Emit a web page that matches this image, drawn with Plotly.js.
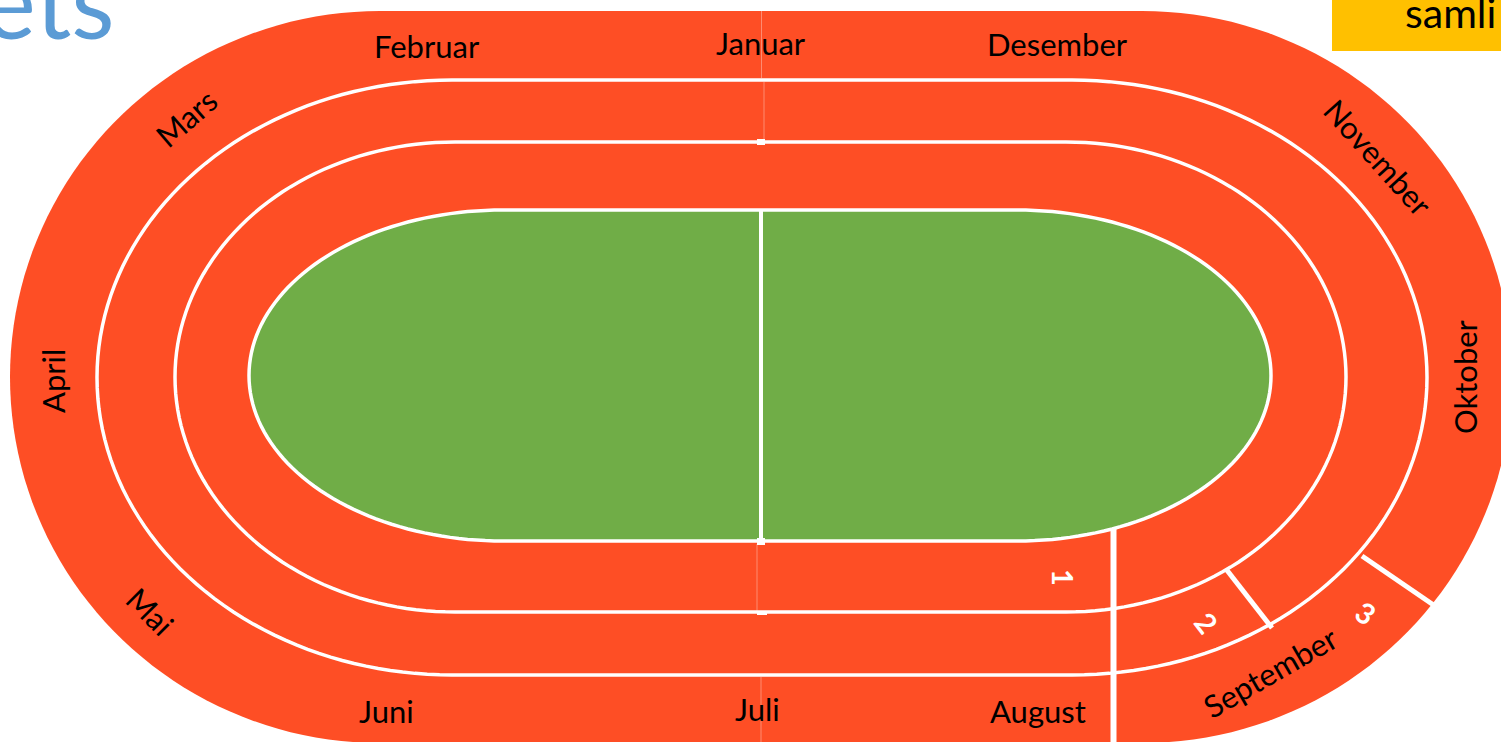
<!DOCTYPE html>
<html>
<head>
<meta charset="utf-8">
<script src="https://cdn.plot.ly/plotly-3.0.1.min.js"></script>
<style>html,body{margin:0;padding:0;background:#fff;overflow:hidden}#chart{width:1501px;height:742px}</style>
</head>
<body>
<div id="chart"></div>
<script>
// ---- content ----
const months = ["Januar","Februar","Mars","April","Mai","Juni","Juli","August","September","Oktober","November","Desember"];
const laneNumbers = ["1","2","3"];
const titleFragment = "ets";
const boxFragment = "samli";

// ---- geometry (pixel space of the slide) ----
const W = 1501, H = 742;
const RED = "#FE4E25", GREEN = "#70AD47", WHITE = "#FFFFFF";
// stadium boundaries: [cx, cy, halfWidth, halfHeight, endRadiusX]
const outerRing = [761, 377, 751, 366, 370];
const laneLine1 = [762, 377.5, 665, 297.5, 355];
const laneLine2 = [760.5, 377, 585.5, 235, 280];
const field     = [760, 375.5, 511, 165.5, 254];

function stadium(g, n) {
  n = n || 90;
  const [cx, cy, hw, hh, rx] = g;
  const xr = cx + hw - rx, xl = cx - hw + rx;
  const pts = [];
  for (let i = 0; i <= n; i++) { const t = -Math.PI/2 + Math.PI*i/n; pts.push([xr + rx*Math.cos(t), cy + hh*Math.sin(t)]); }
  for (let i = 0; i <= n; i++) { const t = Math.PI/2 + Math.PI*i/n; pts.push([xl + rx*Math.cos(t), cy + hh*Math.sin(t)]); }
  return "M" + pts.map(p => p[0].toFixed(2) + "," + p[1].toFixed(2)).join("L") + "Z";
}

// label placement: [x, y, angle]
const monthPlace = {
  "Januar":[761,43,0], "Februar":[427,46,0], "Mars":[186,118,-41], "April":[53,381,-90],
  "Mai":[150,611,45], "Juni":[386,711,0], "Juli":[757,709,0], "August":[1038,711,0],
  "September":[1270,672,-30], "Oktober":[1465,377,-90], "November":[1378,157,48], "Desember":[1057,44,0]
};
const lanePlace = [[1064,577,90],[1207,622,52],[1366,612,35]];

const shapes = [];
shapes.push({type:"path", path:stadium(outerRing), fillcolor:RED, line:{width:0}, layer:"below"});
shapes.push({type:"path", path:stadium(laneLine1), fillcolor:"rgba(0,0,0,0)", line:{color:WHITE, width:3.5}, layer:"below"});
shapes.push({type:"path", path:stadium(laneLine2), fillcolor:"rgba(0,0,0,0)", line:{color:WHITE, width:3.5}, layer:"below"});
shapes.push({type:"path", path:stadium(field), fillcolor:GREEN, line:{color:WHITE, width:3.5}, layer:"below"});
// faint seams at the centre line
const seam = {color:"rgba(255,255,255,0.35)", width:1};
shapes.push({type:"line", x0:761.5, x1:761.5, y0:11, y1:78, line:seam, layer:"below"});
shapes.push({type:"line", x0:764, x1:764, y0:82, y1:140, line:seam, layer:"below"});
shapes.push({type:"line", x0:757, x1:757, y0:544, y1:611, line:seam, layer:"below"});
shapes.push({type:"line", x0:761, x1:761, y0:677, y1:742, line:seam, layer:"below"});
shapes.push({type:"rect", x0:757, x1:765, y0:139, y1:145, fillcolor:WHITE, line:{width:0}, layer:"below"});
shapes.push({type:"rect", x0:757, x1:765, y0:538, y1:545, fillcolor:WHITE, line:{width:0}, layer:"below"});
shapes.push({type:"rect", x0:757, x1:767, y0:611, y1:615, fillcolor:WHITE, line:{width:0}, layer:"below"});
// field centre line
shapes.push({type:"line", x0:761, x1:761, y0:209, y1:542, line:{color:WHITE, width:4}, layer:"below"});
// finish line and staggered starts
shapes.push({type:"line", x0:1113.5, x1:1113.5, y0:529, y1:745, line:{color:WHITE, width:6}, layer:"below"});
shapes.push({type:"line", x0:1226, x1:1272, y0:569, y1:628, line:{color:WHITE, width:5}, layer:"below"});
shapes.push({type:"line", x0:1362, x1:1435, y0:556, y1:606, line:{color:WHITE, width:5}, layer:"below"});
// yellow box top right
shapes.push({type:"rect", x0:1332, x1:1510, y0:-5, y1:51, fillcolor:"#FFC000", line:{width:0}, layer:"below"});

const FONT = "Lato, 'Open Sans', sans-serif";
const annotations = [];
months.forEach(m => {
  const p = monthPlace[m];
  annotations.push({x:p[0], y:p[1], text:m, textangle:p[2], showarrow:false, xanchor:"center", yanchor:"middle",
    font:{family:FONT, size:31, color:"#000"}});
});
laneNumbers.forEach((t, i) => {
  const p = lanePlace[i];
  annotations.push({x:p[0], y:p[1], text:"<b>"+t+"</b>", textangle:p[2], showarrow:false, xanchor:"center", yanchor:"middle",
    font:{family:FONT, size:29, color:WHITE}});
});
annotations.push({x:117, y:0, text:titleFragment, showarrow:false, xanchor:"right", yanchor:"middle",
  font:{family:FONT, size:100, color:"#5B9BD5", weight:400}});
annotations.push({x:1403, y:12, text:boxFragment, showarrow:false, xanchor:"left", yanchor:"middle",
  font:{family:FONT, size:41, color:"#000"}});

const layout = {
  width:W, height:H, margin:{l:0,r:0,t:0,b:0}, paper_bgcolor:"#fff", plot_bgcolor:"#fff",
  showlegend:false,
  xaxis:{range:[0,W], visible:false, fixedrange:true},
  yaxis:{range:[H,0], visible:false, fixedrange:true},
  shapes:shapes, annotations:annotations
};
Plotly.newPlot("chart", [{x:[], y:[], type:"scatter", mode:"markers", hoverinfo:"skip"}], layout, {staticPlot:true, displayModeBar:false});
</script>
</body>
</html>
